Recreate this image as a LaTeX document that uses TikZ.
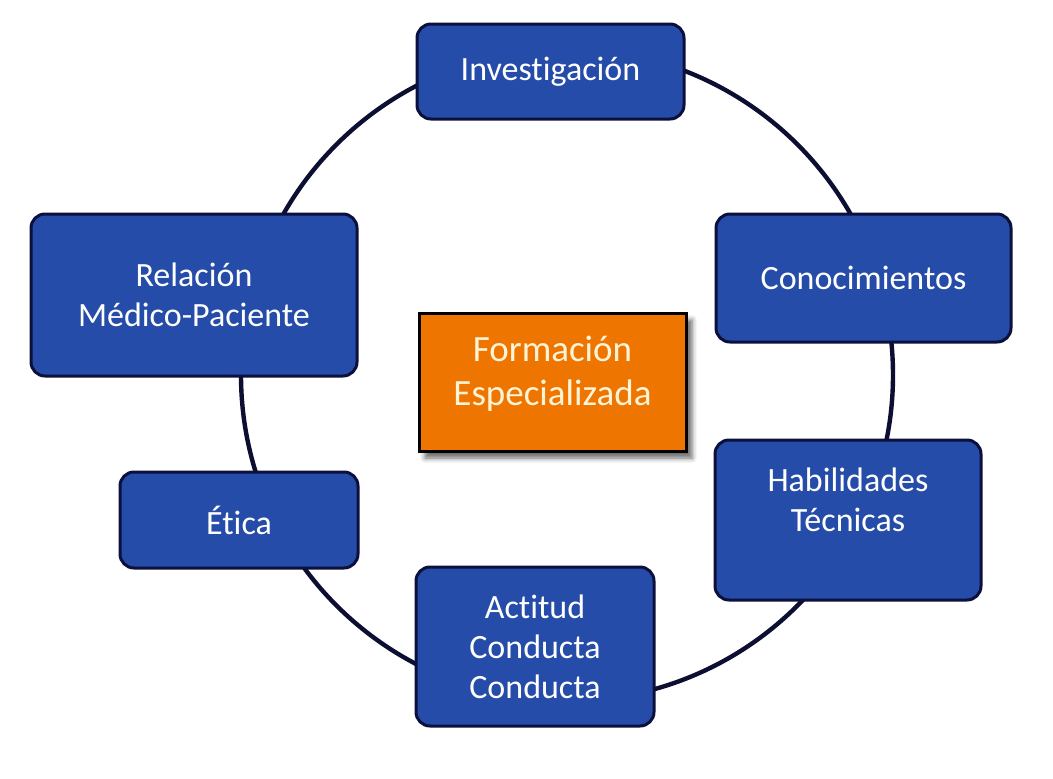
\documentclass[tikz,border=0pt]{standalone}
\usepackage{fontspec}
\setmainfont[Ligatures=NoCommon]{Carlito}
\usetikzlibrary{shadows.blur}
\definecolor{boxblue}{RGB}{37,76,168}
\definecolor{boxline}{RGB}{12,16,60}
\definecolor{ringcol}{RGB}{12,14,50}
\definecolor{orangefill}{RGB}{238,118,0}
\definecolor{cream}{RGB}{255,244,214}
\tikzset{
  bluebox/.style={draw=boxline, line width=3pt, fill=boxblue, rounded corners=14pt,
    text=white, align=center, font=\fontsize{34}{40}\selectfont, inner sep=0pt},
  centerbox/.style={draw=black, line width=3pt, fill=orangefill, text=cream,
    align=center, font=\fontsize{37}{44}\selectfont, inner sep=0pt, text depth=22pt,
    blur shadow={shadow xshift=6pt, shadow yshift=-7pt, shadow blur radius=5pt, shadow opacity=60}},
  ring/.style={draw=ringcol, line width=4.4pt}
}
\begin{document}
\begin{tikzpicture}[x=1pt,y=-1pt]
\useasboundingbox (0,0) rectangle (1053,779);
\coordinate (c) at (567,375);
\draw[ring] (c) circle[radius=326];
\node[bluebox, minimum width=267pt, minimum height=95pt] (inv) at (550.5,71.5) {Investigación};
\node[bluebox, minimum width=295pt, minimum height=128pt] (con) at (863.5,278) {Conocimientos};
\node[bluebox, minimum width=266pt, minimum height=160pt] (hab) at (848,520) {Habilidades\\Técnicas\\~};
\node[bluebox, minimum width=238pt, minimum height=159pt] (act) at (535,646.5) {Actitud\\Conducta\\Conducta};
\node[bluebox, minimum width=238pt, minimum height=96pt] (eti) at (239,520) {Ética};
\node[bluebox, minimum width=326pt, minimum height=162pt] (rel) at (194,295) {Relación\\Médico-Paciente};
\node[centerbox, minimum width=267pt, minimum height=138pt] (fe) at (552.5,382) {Formación\\Especializada};
\end{tikzpicture}
\end{document}
